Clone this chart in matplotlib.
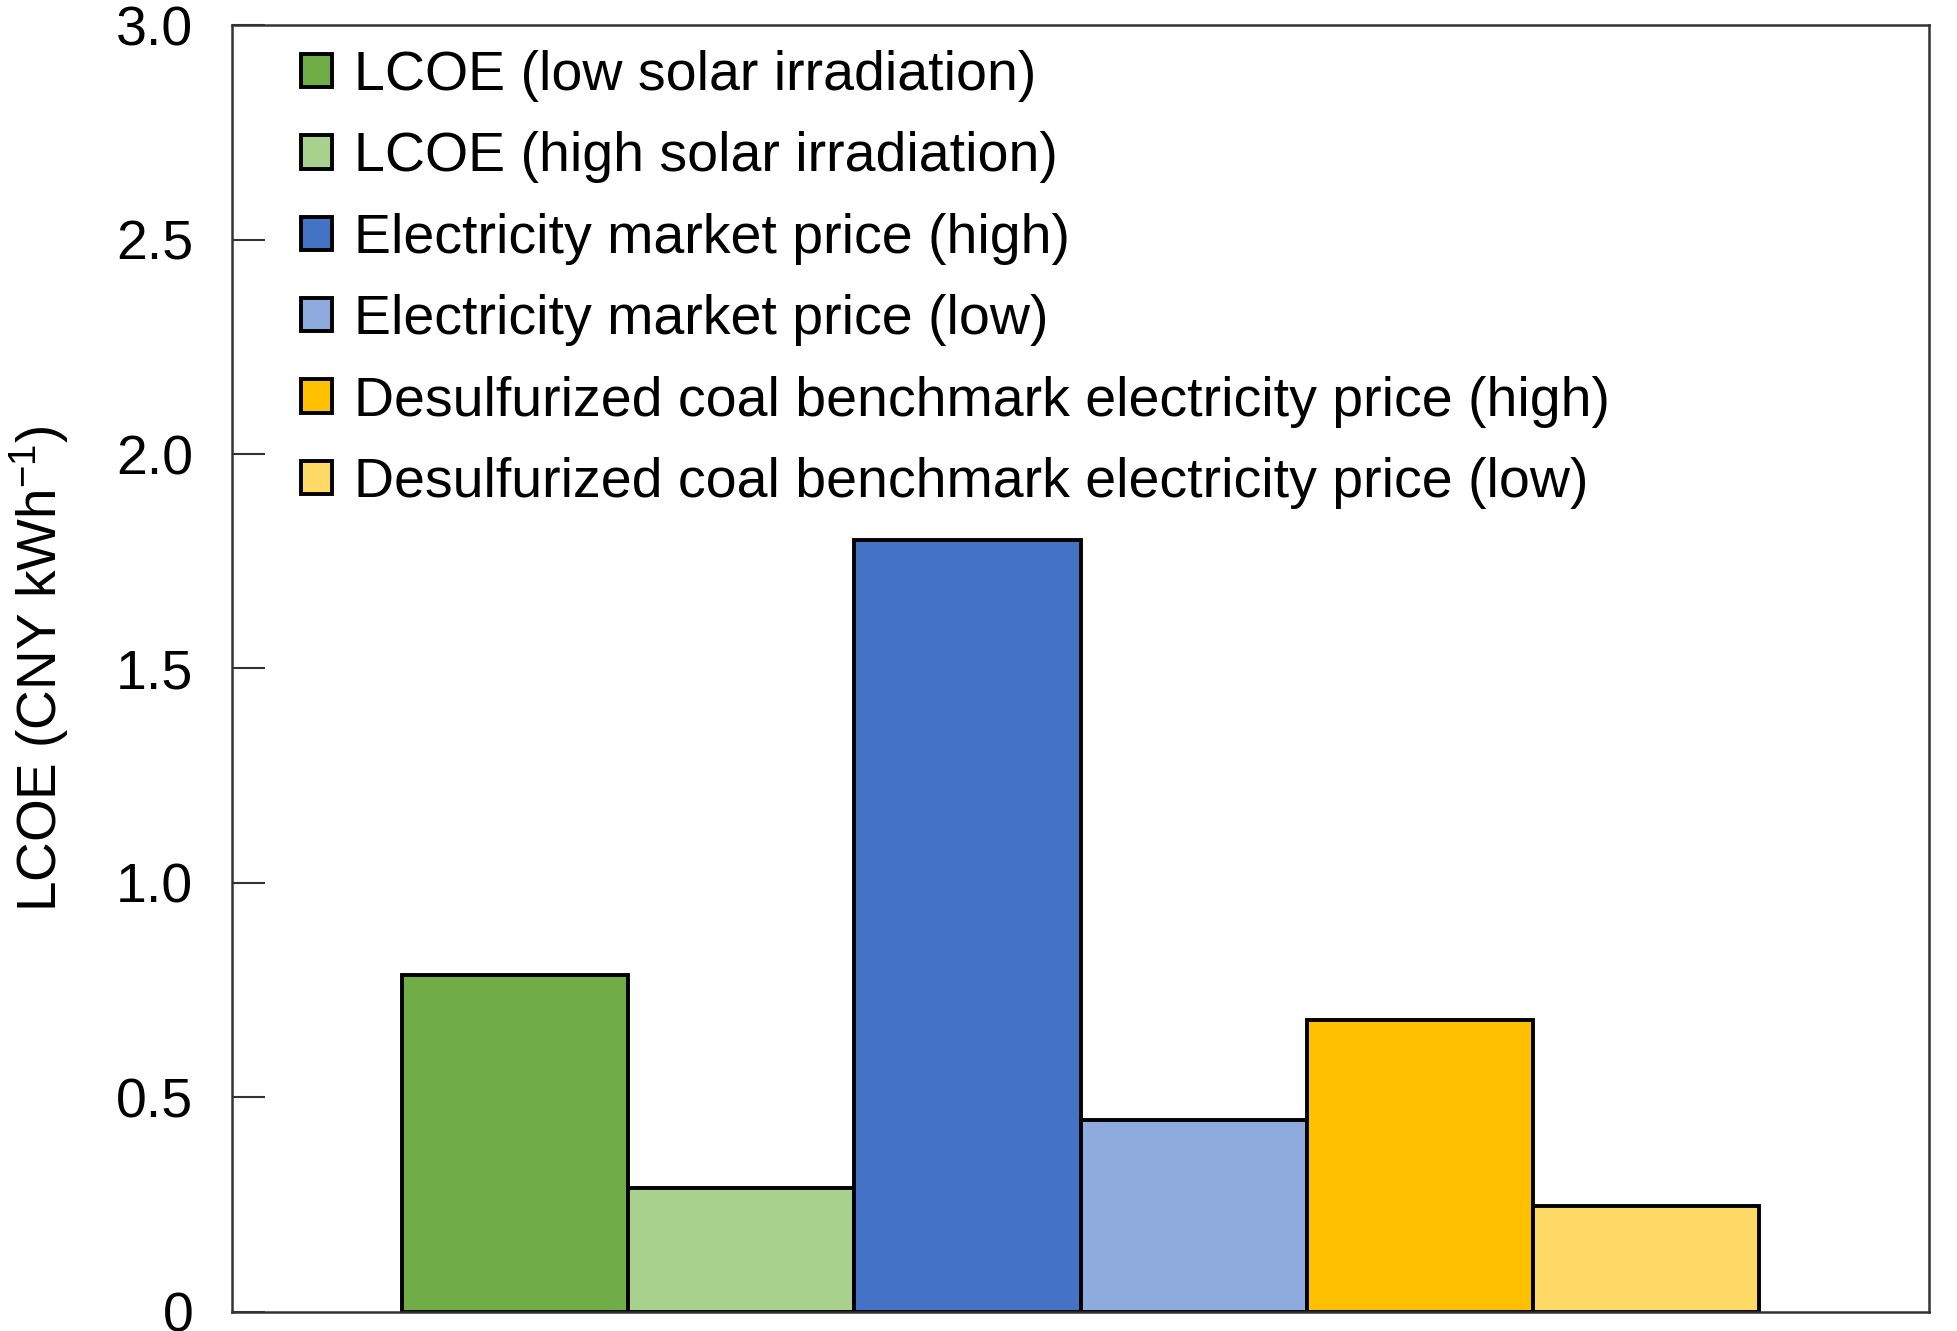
import numpy as np
import matplotlib
matplotlib.use('Agg')
import matplotlib.pyplot as plt

plt.rcParams['font.family'] = ['Liberation Sans', 'DejaVu Sans']
plt.rcParams['mathtext.fontset'] = 'custom'
plt.rcParams['mathtext.rm'] = 'Liberation Sans'
plt.rcParams['mathtext.it'] = 'Liberation Sans:italic'
plt.rcParams['mathtext.default'] = 'regular'

labels = ['LCOE (low solar irradiation)',
          'LCOE (high solar irradiation)',
          'Electricity market price (high)',
          'Electricity market price (low)',
          'Desulfurized coal benchmark electricity price (high)',
          'Desulfurized coal benchmark electricity price (low)']
values = [0.785, 0.29, 1.80, 0.448, 0.68, 0.247]
colors = ['#70AD47', '#A9D18E', '#4472C4', '#8FAADC', '#FFC000', '#FFD966']

yticks = [0, 0.5, 1.0, 1.5, 2.0, 2.5, 3.0]
yticklabels = ['0', '0.5', '1.0', '1.5', '2.0', '2.5', '3.0']

fig = plt.figure(figsize=(19.58, 13.31), dpi=100)
ax = fig.add_axes([0.1185, 0.0143, 0.8667, 0.9669])

x = np.arange(len(values))
for i in range(len(values)):
    ax.bar(x[i], values[i], width=1.0, color=colors[i], edgecolor='black',
           linewidth=2.8, label=labels[i])

ax.set_xlim(-1.25, 6.25)
ax.set_ylim(0, 3.0)
ax.set_xticks([])
ax.set_yticks(yticks)
ax.set_yticklabels(yticklabels)
ax.tick_params(axis='y', direction='in', length=24, width=1.5, labelsize=40,
               pad=28, colors='#333333', labelcolor='black')

for s in ax.spines.values():
    s.set_linewidth(1.8)
    s.set_color('#333333')

ax.set_ylabel('LCOE (CNY kWh$^{-1}$)', fontsize=39.5, labelpad=32)

leg = ax.legend(loc='upper left', frameon=False, fontsize=40,
                handlelength=0.55, handleheight=0.55, handletextpad=0.4,
                labelspacing=0.53, borderaxespad=0.05,
                bbox_to_anchor=(0.026, 1.0))

plt.savefig('out.png', dpi=100)
